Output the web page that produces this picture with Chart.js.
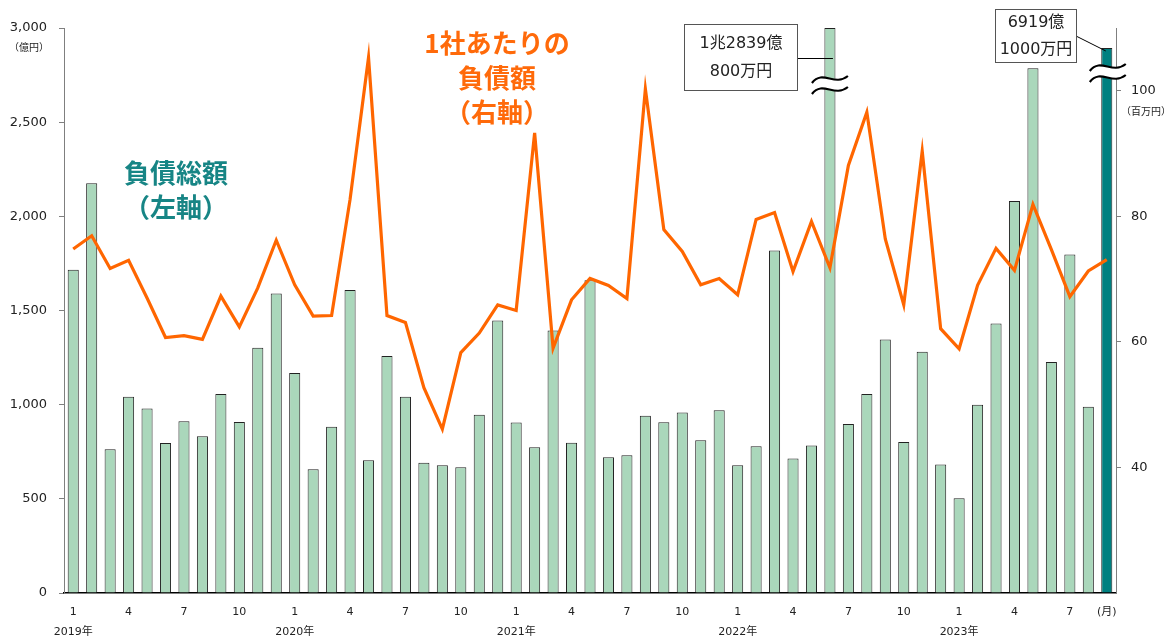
<!DOCTYPE html>
<html>
<head>
<meta charset="utf-8">
<script src="https://cdn.jsdelivr.net/npm/chart.js@4"></script>
<style>
    html, body { margin: 0; padding: 0; background: #fff; }
    #wrap { width: 1170px; height: 640px; position: relative; }
</style>
</head>
<body>
<div id="wrap"><canvas id="debtChart"></canvas></div>
<script>
// months Jan 2019 - Sep 2023
const categories = [
    '2019/1', '2019/2', '2019/3', '2019/4', '2019/5', '2019/6', '2019/7', '2019/8', '2019/9', '2019/10', '2019/11', '2019/12',
    '2020/1', '2020/2', '2020/3', '2020/4', '2020/5', '2020/6', '2020/7', '2020/8', '2020/9', '2020/10', '2020/11', '2020/12',
    '2021/1', '2021/2', '2021/3', '2021/4', '2021/5', '2021/6', '2021/7', '2021/8', '2021/9', '2021/10', '2021/11', '2021/12',
    '2022/1', '2022/2', '2022/3', '2022/4', '2022/5', '2022/6', '2022/7', '2022/8', '2022/9', '2022/10', '2022/11', '2022/12',
    '2023/1', '2023/2', '2023/3', '2023/4', '2023/5', '2023/6', '2023/7', '2023/8', '2023/9'
];

// 負債総額 (億円), bar heights as drawn (the two broken bars are cut off)
const totalDebt = [
    1717, 2176, 763, 1042, 980, 797, 912, 832, 1056, 908, 1302, 1590,
    1168, 657, 883, 1609, 705, 1258, 1042, 692, 678, 668, 947, 1447,
    905, 774, 1394, 798, 1660, 721, 731, 941, 906, 959, 811, 970,
    678, 779, 1819, 714, 783, 3000, 897, 1056, 1346, 802, 1281, 682,
    503, 1000, 1431, 2081, 2786, 1226, 1797, 989, 2894
];

// 1社あたりの負債額 (百万円)
const perCompany = [
    74.8, 76.9, 71.7, 73.0, 67.0, 60.7, 61.0, 60.4, 67.3, 62.4, 68.6, 76.2,
    69.1, 64.1, 64.2, 82.7, 105.3, 64.2, 63.1, 52.7, 46.1, 58.3, 61.4, 65.9,
    65.0, 93.3, 59.0, 66.7, 70.1, 69.0, 66.9, 100.3, 77.9, 74.4, 69.1, 70.1,
    67.5, 79.5, 80.6, 71.2, 79.2, 71.8, 88.1, 96.6, 76.4, 65.9, 90.4, 62.1,
    58.9, 69.0, 74.9, 71.4, 81.9, 74.7, 67.2, 71.3, 73.1
];

const leftTicks = [0, 500, 1000, 1500, 2000, 2500, 3000];
const rightTicks = [40, 60, 80, 100];
const labelMonths = ['1', '4', '7', '10'];

// broken bars: index, callout text lines
const callouts = [
    {index: 41, lines: ['1兆2839億', '800万円']},
    {index: 56, lines: ['6919億', '1000万円']}
];

const BAR_GREEN = '#AAD7BB';
const BAR_TEAL = '#008080';
const LINE_ORANGE = '#FF6600';

Chart.defaults.font.family = '"DejaVu Sans", "Noto Sans CJK JP", sans-serif';
Chart.defaults.color = '#222';

const cjk = '"Noto Sans CJK JP", "DejaVu Sans", sans-serif';
const mixed = '"DejaVu Sans", "Noto Sans CJK JP", sans-serif';

function drawBreak(ctx, x, y) {
    const w = 18;
    ctx.beginPath();
    ctx.moveTo(x - w, y - 1);
    ctx.bezierCurveTo(x - 7, y - 15, x + 4, y + 3, x + w, y - 8);
    ctx.lineTo(x + w, y + 3);
    ctx.bezierCurveTo(x + 4, y + 14, x - 7, y - 4, x - w, y + 10);
    ctx.closePath();
    ctx.fillStyle = '#fff';
    ctx.fill();
    ctx.lineWidth = 2.2;
    ctx.strokeStyle = '#000';
    ctx.beginPath();
    ctx.moveTo(x - w, y - 1);
    ctx.bezierCurveTo(x - 7, y - 15, x + 4, y + 3, x + w, y - 8);
    ctx.stroke();
    ctx.beginPath();
    ctx.moveTo(x - w, y + 10);
    ctx.bezierCurveTo(x - 7, y - 4, x + 4, y + 14, x + w, y + 3);
    ctx.stroke();
}

const decorations = {
    id: 'decorations',
    afterDraw(chart) {
        const ctx = chart.ctx;
        const bars = chart.getDatasetMeta(1).data;
        ctx.save();

        // axis units
        ctx.font = '10px ' + cjk;
        ctx.fillStyle = '#222';
        ctx.textAlign = 'center';
        ctx.textBaseline = 'middle';
        ctx.fillText('（億円）', 29, 47);
        ctx.fillText('（百万円）', 1146, 111);

        // series captions
        ctx.font = 'bold 26px ' + cjk;
        ctx.fillStyle = '#178585';
        ctx.fillText('負債総額', 176, 173);
        ctx.fillText('（左軸）', 176, 207);
        ctx.fillStyle = '#FF6A0A';
        ctx.fillText('1社あたりの', 497, 43);
        ctx.fillText('負債額', 497, 78);
        ctx.fillText('（右軸）', 497, 112);

        // break marks on the cut bars
        drawBreak(ctx, bars[callouts[0].index].x, 84);
        drawBreak(ctx, bars[callouts[1].index].x + 1, 72);

        // callout boxes
        ctx.font = '16px ' + mixed;
        ctx.lineWidth = 1;

        let b = bars[callouts[0].index];
        ctx.beginPath();
        ctx.moveTo(798, 58.5);
        ctx.lineTo(b.x + 3, 58.5);
        ctx.strokeStyle = '#000';
        ctx.stroke();
        ctx.fillStyle = '#fff';
        ctx.fillRect(684.5, 24.5, 113, 66);
        ctx.strokeStyle = '#555';
        ctx.strokeRect(684.5, 24.5, 113, 66);
        ctx.fillStyle = '#222';
        ctx.fillText(callouts[0].lines[0], 741, 44);
        ctx.fillText(callouts[0].lines[1], 741, 72);

        b = bars[callouts[1].index];
        ctx.beginPath();
        ctx.moveTo(1076, 36);
        ctx.lineTo(b.x - 1, b.y + 3);
        ctx.strokeStyle = '#000';
        ctx.stroke();
        ctx.fillStyle = '#fff';
        ctx.fillRect(995.5, 9.5, 81, 53);
        ctx.strokeStyle = '#555';
        ctx.strokeRect(995.5, 9.5, 81, 53);
        ctx.fillStyle = '#222';
        ctx.fillText(callouts[1].lines[0], 1036, 23);
        ctx.fillText(callouts[1].lines[1], 1036, 50);

        ctx.restore();
    }
};

let ctxDebt = document.getElementById('debtChart').getContext('2d');

let debtChart = new Chart(ctxDebt, {
    type: 'bar',
    data: {
        labels: categories,
        datasets: [{
            type: 'line',
            label: '1社あたりの負債額',
            data: perCompany,
            yAxisID: 'y1',
            borderColor: LINE_ORANGE,
            borderWidth: 3.2,
            pointRadius: 0,
            tension: 0,
            fill: false
        }, {
            type: 'bar',
            label: '負債総額',
            data: totalDebt,
            yAxisID: 'y',
            backgroundColor: totalDebt.map((v, i) => i === totalDebt.length - 1 ? BAR_TEAL : BAR_GREEN),
            borderColor: '#222',
            borderWidth: 1,
            barPercentage: 0.6,
            categoryPercentage: 1.0
        }]
    },
    options: {
        responsive: true,
        maintainAspectRatio: false,
        animation: false,
        layout: {padding: {top: 28, left: 0, right: 0, bottom: 0}},
        plugins: {
            legend: {display: false},
            tooltip: {enabled: false}
        },
        scales: {
            x: {
                grid: {display: false},
                border: {display: true, color: '#000', width: 1.5},
                afterFit: (scale) => { scale.height = 47; },
                ticks: {
                    autoSkip: false,
                    maxRotation: 0,
                    padding: 1,
                    font: {size: 11, lineHeight: 1.85},
                    callback: function (value, index) {
                        if (index === categories.length - 1) return '(月)';
                        const parts = categories[index].split('/');
                        if (parts[1] === '1') return [parts[1], parts[0] + '年'];
                        return labelMonths.includes(parts[1]) ? parts[1] : '';
                    }
                }
            },
            y: {
                position: 'left',
                min: 0,
                max: 3000,
                afterFit: (scale) => { scale.width = 64; },
                afterBuildTicks: (scale) => { scale.ticks = leftTicks.map(v => ({value: v})); },
                grid: {drawOnChartArea: false, drawTicks: true, tickLength: 5, color: '#7f7f7f'},
                border: {display: true, color: '#7f7f7f', width: 1},
                ticks: {
                    padding: 12,
                    font: {size: 13},
                    callback: (v) => v.toLocaleString('en-US')
                }
            },
            y1: {
                position: 'right',
                min: 20,
                max: 110,
                afterFit: (scale) => { scale.width = 54; },
                afterBuildTicks: (scale) => { scale.ticks = rightTicks.map(v => ({value: v})); },
                grid: {drawOnChartArea: false, drawTicks: true, tickLength: 5, color: '#7f7f7f'},
                border: {display: true, color: '#7f7f7f', width: 1},
                ticks: {
                    padding: 10,
                    font: {size: 13}
                }
            }
        }
    },
    plugins: [decorations]
});
</script>
</body>
</html>
